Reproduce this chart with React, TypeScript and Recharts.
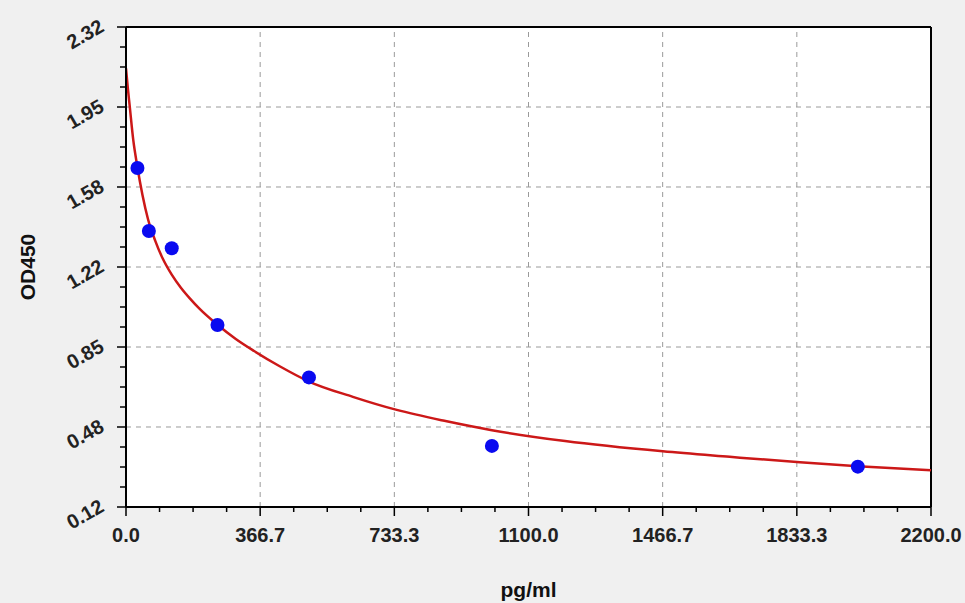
import React from "react";
import {
  ComposedChart,
  XAxis,
  YAxis,
  Line,
  Scatter,
  ReferenceLine,
  ReferenceArea,
} from "recharts";

// Measured standards (pg/ml vs OD450)
const pointX = [31.25, 62.5, 125, 250, 500, 1000, 2000];
const pointY = [1.674, 1.385, 1.306, 0.954, 0.714, 0.4, 0.305];

// Fitted curve
const curveX = [0, 5, 10, 20, 30, 45, 60, 80, 100, 125, 150, 175, 200, 250, 300, 350, 420, 500, 620, 740, 870, 1000, 1200, 1467, 1650, 1842, 2000, 2200];
const curveY = [2.13, 2.04, 1.96, 1.8, 1.69, 1.55, 1.44, 1.34, 1.26, 1.185, 1.125, 1.075, 1.03, 0.955, 0.89, 0.835, 0.765, 0.695, 0.625, 0.565, 0.515, 0.472, 0.422, 0.375, 0.35, 0.325, 0.307, 0.288];

// Axis ticks
const xMajorTicks = [0, 366.67, 733.33, 1100, 1466.67, 1833.33, 2200];
const xTickLabels = ["0.0", "366.7", "733.3", "1100.0", "1466.7", "1833.3", "2200.0"];
const xMinorTicks = [
  91.67, 183.33, 275, 458.33, 550, 641.67, 825, 916.67, 1008.33, 1191.67, 1283.33, 1375,
  1558.33, 1650, 1741.67, 1925, 2016.67, 2108.33,
];
const yMajorTicks = [0.12, 0.4867, 0.8533, 1.22, 1.5867, 1.9533, 2.32];
const yTickLabels = ["0.12", "0.48", "0.85", "1.22", "1.58", "1.95", "2.32"];
const yMinorTicks = [
  0.2117, 0.3033, 0.395, 0.5783, 0.67, 0.7617, 0.945, 1.0367, 1.1283, 1.3117, 1.4033, 1.495,
  1.6783, 1.77, 1.8617, 2.045, 2.1367, 2.2283,
];

const points = pointX.map((x, i) => ({ x, y: pointY[i] }));
const curve = curveX.map((x, i) => ({ x, y: curveY[i] }));
const xAllTicks = [...xMajorTicks, ...xMinorTicks].sort((a, b) => a - b);
const yAllTicks = [...yMajorTicks, ...yMinorTicks].sort((a, b) => a - b);

const FONT = "'Liberation Sans', Arial, sans-serif";

const XTick = (props: any) => {
  const { x, y, payload } = props;
  const i = xMajorTicks.indexOf(payload.value);
  const major = i >= 0;
  return (
    <g>
      <line x1={x} y1={y} x2={x} y2={y + (major ? 9 : 5)} stroke="#000" strokeWidth={1.5} />
      {major && (
        <text
          x={x}
          y={y + 35}
          textAnchor="middle"
          fontFamily={FONT}
          fontSize={20}
          fontWeight="bold"
          fill="#222"
        >
          {xTickLabels[i]}
        </text>
      )}
    </g>
  );
};

const YTick = (props: any) => {
  const { x, y, payload } = props;
  const i = yMajorTicks.indexOf(payload.value);
  const major = i >= 0;
  const cx = x - 41;
  const cy = y + 7;
  return (
    <g>
      <line x1={x} y1={y} x2={x - (major ? 9 : 6)} y2={y} stroke="#000" strokeWidth={1.5} />
      {major && (
        <text
          x={cx}
          y={cy}
          textAnchor="middle"
          dominantBaseline="central"
          transform={`rotate(-30, ${cx}, ${cy})`}
          fontFamily={FONT}
          fontSize={20}
          fontWeight="bold"
          fill="#222"
        >
          {yTickLabels[i]}
        </text>
      )}
    </g>
  );
};

const XTitle = (props: any) => {
  const { viewBox } = props;
  return (
    <text
      x={viewBox.x + viewBox.width / 2}
      y={viewBox.y + 90}
      textAnchor="middle"
      fontFamily={FONT}
      fontSize={21}
      fontWeight="bold"
      fill="#111"
    >
      pg/ml
    </text>
  );
};

const YTitle = (props: any) => {
  const { viewBox } = props;
  const cx = viewBox.x + viewBox.width - 99;
  const cy = viewBox.y + viewBox.height / 2;
  return (
    <text
      x={cx}
      y={cy}
      textAnchor="middle"
      dominantBaseline="central"
      transform={`rotate(-90, ${cx}, ${cy})`}
      fontFamily={FONT}
      fontSize={21}
      fontWeight="bold"
      fill="#111"
    >
      OD450
    </text>
  );
};

const Dot = (props: any) => <circle cx={props.cx} cy={props.cy} r={7} fill="#0a0af0" />;

export default function App() {
  return (
    <div
      style={{
        position: "absolute",
        left: 0,
        top: 0,
        width: 965,
        height: 603,
        background: "#f0f0f0",
      }}
    >
      <ComposedChart
        width={965}
        height={603}
        margin={{ top: 27, right: 34, bottom: 95, left: 125 }}
      >
        <ReferenceArea
          x1={0}
          x2={2200}
          y1={0.12}
          y2={2.32}
          fill="#ffffff"
          fillOpacity={1}
          stroke="none"
        />
        {xMajorTicks.slice(1, -1).map((v) => (
          <ReferenceLine key={`vx${v}`} x={v} stroke="#9a9a9a" strokeDasharray="5 5" strokeWidth={1} />
        ))}
        {yMajorTicks.slice(1, -1).map((v) => (
          <ReferenceLine key={`hy${v}`} y={v} stroke="#9a9a9a" strokeDasharray="5 5" strokeWidth={1} />
        ))}
        <ReferenceLine y={2.32} stroke="#000" strokeWidth={2} />
        <ReferenceLine x={2200} stroke="#000" strokeWidth={2} />
        <XAxis
          type="number"
          dataKey="x"
          domain={[0, 2200]}
          ticks={xAllTicks}
          interval={0}
          tickSize={0}
          tickMargin={0}
          height={1}
          tick={XTick}
          axisLine={{ stroke: "#000", strokeWidth: 2 }}
          allowDataOverflow
          label={XTitle}
        />
        <YAxis
          type="number"
          dataKey="y"
          domain={[0.12, 2.32]}
          ticks={yAllTicks}
          interval={0}
          tickSize={0}
          tickMargin={0}
          width={1}
          tick={YTick}
          axisLine={{ stroke: "#000", strokeWidth: 2 }}
          allowDataOverflow
          label={YTitle}
        />
        <Scatter data={points} dataKey="y" shape={Dot} isAnimationActive={false} />
        <Line
          data={curve}
          dataKey="y"
          type="monotone"
          stroke="#cc1818"
          strokeWidth={2.5}
          dot={false}
          activeDot={false}
          isAnimationActive={false}
        />
      </ComposedChart>
    </div>
  );
}
